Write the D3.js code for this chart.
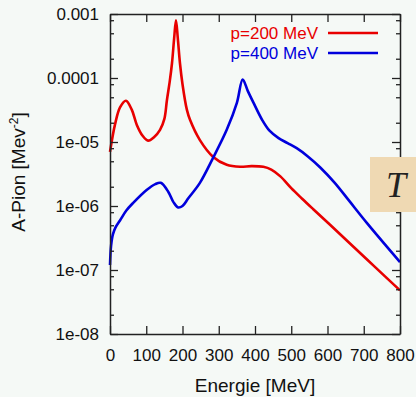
<!DOCTYPE html>
<html>
<head>
<meta charset="utf-8">
<script src="https://cdn.jsdelivr.net/npm/d3@7"></script>
<style>
  body { margin: 0; background: #f5f9f6; }
  svg { display: block; font-family: "Liberation Sans", Arial, sans-serif; }
</style>
</head>
<body>
<div id="chart"></div>
<script>
// energy grid (MeV) and values for each curve
const redEnergy = [0, 14, 28, 44, 60, 74, 90, 105, 122, 138, 150, 157, 165, 171, 177, 182, 187, 193, 200, 212, 221, 248, 284, 322, 359, 390, 423, 445, 470, 500, 530, 560, 607, 662, 730, 800];
const redValues = [7.0e-6, 1.9e-5, 3.5e-5, 4.4e-5, 3.2e-5, 1.85e-5, 1.25e-5, 1.05e-5, 1.2e-5, 1.55e-5, 2.3e-5, 4.5e-5, 9e-5, 1.7e-4, 4.2e-4, 8.0e-4, 4.2e-4, 1.7e-4, 8e-5, 3.2e-5, 2.2e-5, 1.07e-5, 5.9e-6, 4.4e-6, 4.1e-6, 4.2e-6, 4.1e-6, 3.7e-6, 2.9e-6, 1.9e-6, 1.3e-6, 9.0e-7, 5.1e-7, 2.6e-7, 1.13e-7, 4.8e-8];

const blueEnergy = [0, 3, 8, 15, 28, 45, 64, 101, 125, 140, 161, 175, 188, 200, 216, 248, 284, 322, 350, 366, 380, 395, 420, 440, 465, 490, 515, 545, 580, 620, 660, 709, 800];
const blueValues = [1.2e-7, 2.4e-7, 3.6e-7, 4.6e-7, 6.0e-7, 8.5e-7, 1.12e-6, 1.78e-6, 2.2e-6, 2.3e-6, 1.66e-6, 1.15e-6, 9.5e-7, 1.0e-6, 1.32e-6, 2.3e-6, 5.6e-6, 1.55e-5, 4.1e-5, 9.5e-5, 6.3e-5, 4.2e-5, 2.2e-5, 1.5e-5, 1.15e-5, 9.6e-6, 8.0e-6, 6.0e-6, 4.0e-6, 2.3e-6, 1.2e-6, 5.4e-7, 1.33e-7];

const seriesNames = ["p=200 MeV", "p=400 MeV"];
const seriesColors = ["#e80000", "#0000dc"];

const xTickValues = [0, 100, 200, 300, 400, 500, 600, 700, 800];
const yTickValues = [1e-3, 1e-4, 1e-5, 1e-6, 1e-7, 1e-8];
const yTickLabels = ["0.001", "0.0001", "1e-05", "1e-06", "1e-07", "1e-08"];
const yMinorValues = [8e-4, 5e-4, 2e-4, 8e-5, 5e-5, 2e-5, 8e-6, 5e-6, 2e-6, 8e-7, 5e-7, 2e-7, 8e-8, 5e-8, 2e-8];

const margin = { top: 14, right: 16, bottom: 63, left: 110 };
const totalWidth = 416, totalHeight = 397;
const width = totalWidth - margin.left - margin.right;
const height = totalHeight - margin.top - margin.bottom;

const svg = d3.select("#chart")
    .append("svg")
    .attr("width", totalWidth)
    .attr("height", totalHeight);

const g = svg.append("g")
    .attr("transform", `translate(${margin.left}, ${margin.top})`);

const x = d3.scaleLinear().domain([0, 800]).range([0, width]);
const y = d3.scaleLog().domain([1e-8, 1e-3]).range([height, 0]);

const line = d3.line()
    .x(d => x(d[0]))
    .y(d => y(d[1]))
    .curve(d3.curveCatmullRom.alpha(0.5));

const redData = redEnergy.map((e, i) => [e, redValues[i]]);
const blueData = blueEnergy.map((e, i) => [e, blueValues[i]]);

g.append("path").datum(redData)
    .attr("d", line).attr("fill", "none")
    .attr("stroke", seriesColors[0]).attr("stroke-width", 2.6);
g.append("path").datum(blueData)
    .attr("d", line).attr("fill", "none")
    .attr("stroke", seriesColors[1]).attr("stroke-width", 2.6);

// axes, ticks pointing inwards like gnuplot
function styleAxis(sel) {
    sel.select(".domain").attr("stroke", "#222").attr("stroke-width", 1.5);
    sel.selectAll(".tick line").attr("stroke", "#222").attr("stroke-width", 1.3);
    sel.selectAll("text").attr("fill", "#111").attr("font-size", 17);
}

g.append("g")
    .attr("transform", `translate(0, ${height})`)
    .call(d3.axisBottom(x).tickValues(xTickValues).tickFormat(d3.format("d"))
        .tickSizeInner(-8).tickSizeOuter(0).tickPadding(15))
    .call(styleAxis);

g.append("g")
    .call(d3.axisTop(x).tickValues(xTickValues).tickFormat("")
        .tickSizeInner(-8).tickSizeOuter(0))
    .call(styleAxis);

g.append("g")
    .call(d3.axisLeft(y).tickValues(yTickValues).tickFormat((d, i) => yTickLabels[i])
        .tickSizeInner(-8).tickSizeOuter(0).tickPadding(11))
    .call(styleAxis);

g.append("g")
    .call(d3.axisLeft(y).tickValues(yMinorValues).tickFormat("")
        .tickSizeInner(-4).tickSizeOuter(0))
    .call(styleAxis)
    .select(".domain").remove();

g.append("g")
    .attr("transform", `translate(${width}, 0)`)
    .call(d3.axisRight(y).tickValues(yTickValues).tickFormat("")
        .tickSizeInner(-8).tickSizeOuter(0))
    .call(styleAxis);

g.append("g")
    .attr("transform", `translate(${width}, 0)`)
    .call(d3.axisRight(y).tickValues(yMinorValues).tickFormat("")
        .tickSizeInner(-4).tickSizeOuter(0))
    .call(styleAxis)
    .select(".domain").remove();

// axis titles
svg.append("text")
    .attr("x", 255).attr("y", 392)
    .attr("text-anchor", "middle")
    .attr("font-size", 19)
    .attr("fill", "#111")
    .text("Energie [MeV]");

const yTitle = svg.append("text")
    .attr("transform", "translate(25, 172) rotate(-90)")
    .attr("text-anchor", "middle")
    .attr("font-size", 19)
    .attr("fill", "#111");
yTitle.append("tspan").text("A-Pion [Mev");
yTitle.append("tspan").attr("font-size", 12).attr("dy", -7).text("-2");
yTitle.append("tspan").attr("dy", 7).text("]");

// legend
const legend = g.append("g");
seriesNames.forEach((name, i) => {
    const ly = 19 + i * 20;
    legend.append("text")
        .attr("x", 208).attr("y", ly)
        .attr("dy", "0.36em")
        .attr("text-anchor", "end")
        .attr("font-size", 17)
        .attr("fill", seriesColors[i])
        .text(name);
    legend.append("line")
        .attr("x1", 218).attr("x2", 268)
        .attr("y1", ly).attr("y2", ly)
        .attr("stroke", seriesColors[i])
        .attr("stroke-width", 2.6);
});

// the beige "T" tab on the right edge
svg.append("rect")
    .attr("x", 370).attr("y", 157)
    .attr("width", 46).attr("height", 55)
    .attr("fill", "#efd9b3");
svg.append("text")
    .attr("x", 396).attr("y", 197)
    .attr("text-anchor", "middle")
    .attr("font-family", "'Liberation Serif', 'DejaVu Serif', serif")
    .attr("font-style", "italic")
    .attr("font-size", 36)
    .attr("fill", "#222")
    .text("T");
</script>
</body>
</html>
